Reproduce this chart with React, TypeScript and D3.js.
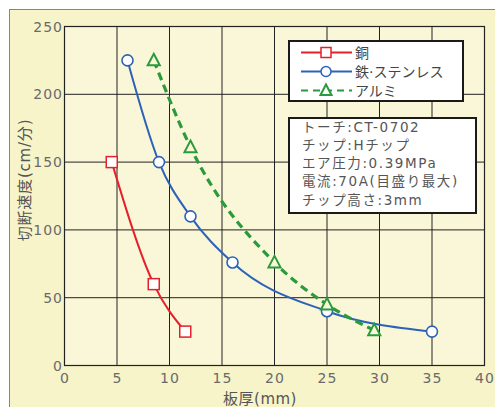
import React from "react";
import * as d3 from "d3";

const copperX = [4.5, 8.5, 11.5];
const copperY = [150, 60, 25];
const ironX = [6, 9, 12, 16, 25, 35];
const ironY = [225, 150, 110, 76, 40, 25];
const aluX = [8.5, 12, 20, 25, 29.5];
const aluY = [225, 161, 76, 45, 26];
const xTicks = [0, 5, 10, 15, 20, 25, 30, 35, 40];
const yTicks = [0, 50, 100, 150, 200, 250];
const legendLabels = ["銅", "鉄·ステンレス", "アルミ"];
const infoLines = [
  "トーチ:CT-0702",
  "チップ:Hチップ",
  "エア圧力:0.39MPa",
  "電流:70A(目盛り最大)",
  "チップ高さ:3mm",
];

const W = 495;
const H = 407;
const FONT = "'DejaVu Sans', 'Noto Sans CJK JP', sans-serif";
const RED = "#e5202c";
const BLUE = "#2d62b8";
const GREEN = "#2a9a3c";

export default function App() {
  const x = d3.scaleLinear().domain([0, 40]).range([64.5, 484.5]);
  const y = d3.scaleLinear().domain([0, 250]).range([365.5, 26.5]);
  const line = d3
    .line<[number, number]>()
    .x((d) => x(d[0]))
    .y((d) => y(d[1]))
    .curve(d3.curveMonotoneX);
  const zip = (a: number[], b: number[]) => a.map((v, i) => [v, b[i]] as [number, number]);
  const copper = zip(copperX, copperY);
  const iron = zip(ironX, ironY);
  const alu = zip(aluX, aluY);

  const tri = (cx: number, cy: number, s: number) =>
    `M${cx},${cy - s * 0.6}L${cx + s * 0.55},${cy + s * 0.45}L${cx - s * 0.55},${cy + s * 0.45}Z`;

  return (
    <svg
      width={W}
      height={H}
      style={{ position: "absolute", left: 0, top: 0, display: "block" }}
    >
      <rect x={0} y={0} width={W} height={H} fill="#ffffff" />
      <rect x={9.5} y={9.5} width={W} height={H} fill="#f7f4c9" stroke="#8a8670" strokeWidth={1} />
      <rect x={x(0)} y={y(250)} width={x(40) - x(0)} height={y(0) - y(250)} fill="#f9f7d8" />
      {/* grid */}
      {xTicks.map((t) => (
        <line key={"gx" + t} x1={x(t)} x2={x(t)} y1={y(0)} y2={y(250)} stroke="#222" strokeWidth={1} />
      ))}
      {yTicks.map((t) => (
        <line key={"gy" + t} x1={x(0)} x2={x(40)} y1={y(t)} y2={y(t)} stroke="#222" strokeWidth={1} />
      ))}
      <rect x={x(0)} y={y(250)} width={x(40) - x(0)} height={y(0) - y(250)} fill="none" stroke="#222" strokeWidth={1.2} />
      {/* tick labels */}
      {yTicks.map((t) => (
        <text key={"ty" + t} x={63} y={y(t) + 5} textAnchor="end" fontFamily={FONT} fontSize={14} letterSpacing={1} fill="#6a6a6a">
          {t}
        </text>
      ))}
      {xTicks.map((t) => (
        <text key={"tx" + t} x={x(t) + 0.5} y={383} textAnchor="middle" fontFamily={FONT} fontSize={14} letterSpacing={1} fill="#6a6a6a">
          {t}
        </text>
      ))}
      <text x={260} y={404} textAnchor="middle" fontFamily={FONT} fontSize={15} letterSpacing={0.5} fill="#555">
        板厚(mm)
      </text>
      <text
        transform={`translate(30,180) rotate(-90)`}
        textAnchor="middle"
        fontFamily={FONT}
        fontSize={15}
        letterSpacing={0.8}
        fill="#555"
      >
        切断速度(cm/分)
      </text>
      {/* lines */}
      <path d={line(copper) || ""} fill="none" stroke={RED} strokeWidth={2} />
      <path d={line(iron) || ""} fill="none" stroke={BLUE} strokeWidth={2} />
      <path d={line(alu) || ""} fill="none" stroke={GREEN} strokeWidth={3.2} strokeDasharray="8,5" />
      {copper.map((d, i) => (
        <rect key={"c" + i} x={x(d[0]) - 5.5} y={y(d[1]) - 5.5} width={11} height={11} fill="#fff" stroke={RED} strokeWidth={1.5} />
      ))}
      {iron.map((d, i) => (
        <circle key={"i" + i} cx={x(d[0])} cy={y(d[1])} r={5.5} fill="#fff" stroke={BLUE} strokeWidth={1.6} />
      ))}
      {alu.map((d, i) => (
        <path key={"a" + i} d={tri(x(d[0]), y(d[1]), 11)} fill="#f9f7d8" stroke={GREEN} strokeWidth={2} />
      ))}
      {/* legend */}
      <rect x={289} y={41} width={174} height={60} fill="#fff" stroke="#1a1a1a" strokeWidth={2} />
      {legendLabels.map((lab, i) => {
        const ly = 52.5 + i * 19;
        const color = [RED, BLUE, GREEN][i];
        return (
          <g key={"l" + i}>
            <line
              x1={301}
              x2={352}
              y1={ly}
              y2={ly}
              stroke={color}
              strokeWidth={i === 2 ? 2 : 1.8}
              strokeDasharray={i === 2 ? "7,5" : undefined}
            />
            {i === 0 && <rect x={321} y={ly - 5} width={10} height={10} fill="#fff" stroke={RED} strokeWidth={1.5} />}
            {i === 1 && <circle cx={326} cy={ly} r={5} fill="#fff" stroke={BLUE} strokeWidth={1.5} />}
            {i === 2 && <path d={tri(326, ly, 10)} fill="#fff" stroke={GREEN} strokeWidth={2} />}
            <text x={355} y={ly + 5} fontFamily={FONT} fontSize={14} fill="#444">
              {lab}
            </text>
          </g>
        );
      })}
      {/* info box */}
      <rect x={289} y={118} width={187} height={95} fill="#fff" stroke="#1a1a1a" strokeWidth={2} />
      {infoLines.map((t, i) => (
        <text key={"in" + i} x={302} y={131.5 + i * 18.3} fontFamily={FONT} fontSize={13.5} letterSpacing={1.6} fill="#555">
          {t}
        </text>
      ))}
    </svg>
  );
}
